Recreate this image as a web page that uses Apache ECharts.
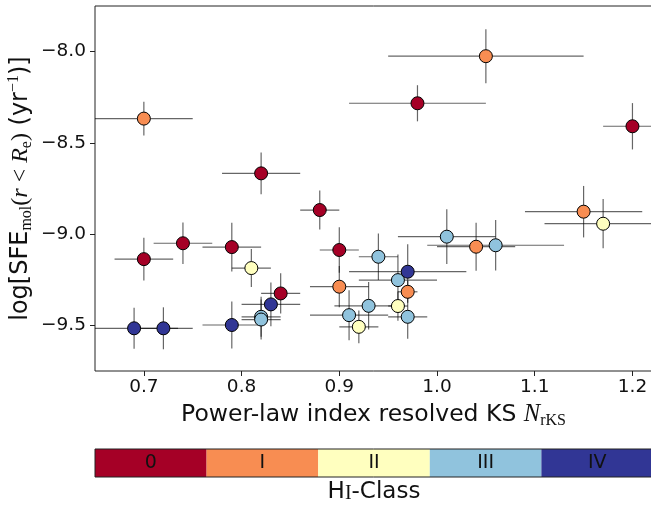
<!DOCTYPE html>
<html>
<head>
<meta charset="utf-8">
<script src="https://cdn.jsdelivr.net/npm/echarts@6/dist/echarts.min.js"></script>
<style>
  html, body { margin: 0; padding: 0; background: #fff; }
  #chart { width: 651px; height: 506px; }
</style>
</head>
<body>
<div id="chart"></div>
<script>
// power-law index, SFE and their errors, HI class per galaxy
const nKS = [0.70, 0.74, 0.79, 0.88, 0.90, 0.84, 0.82, 0.98, 1.20,
  0.70, 1.05, 0.90, 0.97, 1.04, 1.15,
  0.81, 0.96, 0.92, 1.17,
  0.82, 0.82, 0.91, 0.93, 0.94, 0.96, 0.97, 1.01, 1.06,
  0.69, 0.72, 0.79, 0.83, 0.97];
const logSFE = [-9.137, -9.050, -9.071, -8.868, -9.087, -9.325, -8.667, -8.283, -8.409,
  -8.367, -8.025, -9.288, -9.316, -9.069, -8.877,
  -9.186, -9.394, -9.508, -8.943,
  -9.453, -9.468, -9.444, -9.393, -9.124, -9.252, -9.453, -9.014, -9.061,
  -9.516, -9.516, -9.498, -9.385, -9.206];
const nKSErr = [0.03, 0.03, 0.03, 0.02, 0.02, 0.02, 0.04, 0.07, 0.03,
  0.05, 0.10, 0.03, 0.01, 0.04, 0.06,
  0.02, 0.01, 0.02, 0.06,
  0.02, 0.02, 0.04, 0.035, 0.02, 0.04, 0.02, 0.05, 0.07,
  0.045, 0.03, 0.03, 0.03, 0.06];
const sfeErr = [0.117, 0.114, 0.134, 0.107, 0.124, 0.11, 0.114, 0.099, 0.127,
  0.093, 0.148, 0.113, 0.06, 0.132, 0.141,
  0.104, 0.08, 0.09, 0.135,
  0.11, 0.11, 0.137, 0.13, 0.128, 0.14, 0.12, 0.15, 0.138,
  0.112, 0.115, 0.129, 0.12, 0.15];
const hiClass = [0, 0, 0, 0, 0, 0, 0, 0, 0,
  1, 1, 1, 1, 1, 1,
  2, 2, 2, 2,
  3, 3, 3, 3, 3, 3, 3, 3, 3,
  4, 4, 4, 4, 4];

const classLabels = ["0", "I", "II", "III", "IV"];
const xTicks = [0.7, 0.8, 0.9, 1.0, 1.1, 1.2];
const yTicks = [-9.5, -9.0, -8.5, -8.0];

const classColors = ["#a50026", "#f88d52", "#ffffbf", "#90c3dd", "#313695"];
const serif = "Liberation Serif";

const errRows = nKS.map((x, i) => [x, logSFE[i], nKSErr[i], sfeErr[i]]);

const scatterSeries = classLabels.map((name, c) => ({
  name: name,
  type: "scatter",
  symbolSize: 13,
  z: 5,
  itemStyle: { color: classColors[c], borderColor: "#000", borderWidth: 1, opacity: 1 },
  data: nKS.map((x, i) => [x, logSFE[i], hiClass[i]]).filter((d) => d[2] === c),
}));

const minus = (v) => (v < 0 ? "\u2212" : "") + Math.abs(v).toFixed(1);

const chart = echarts.init(document.getElementById("chart"));
chart.setOption({
  animation: false,
  textStyle: { fontFamily: "DejaVu Sans" },
  grid: [
    { left: 95, right: -1, top: 6, bottom: 135, outerBoundsMode: "none",
      show: true, borderColor: "#222", borderWidth: 1 },
    { left: 95, right: -2, top: 449, height: 28, outerBoundsMode: "none", show: true, z: 10,
      borderColor: "#222", borderWidth: 1, backgroundColor: "transparent" },
  ],
  xAxis: [
    {
      type: "value",
      min: 0.65,
      max: 1.22,
      splitLine: { show: false },
      axisLine: { show: false },
      axisTick: { show: true, length: 5, customValues: xTicks, lineStyle: { color: "#222" } },
      axisLabel: { customValues: xTicks, fontSize: 18.5, color: "#111", margin: 7,
        formatter: (v) => v.toFixed(1) },
      name: "{a|Power-law index resolved KS }{n|N}{s|rKS}",
      nameLocation: "middle",
      nameGap: 29,
      nameTextStyle: {
        rich: {
          a: { fontSize: 23.5, color: "#111", fontFamily: "DejaVu Sans" },
          n: { fontSize: 24.5, color: "#111", fontFamily: serif, fontStyle: "italic" },
          s: { fontSize: 16, color: "#111", fontFamily: serif, padding: [13, 0, 0, 0] },
        },
      },
    },
    {
      type: "category",
      gridIndex: 1,
      data: classLabels,
      axisLine: { show: false },
      axisTick: { show: false },
      axisLabel: { show: false },
      name: "{h|H}{i|I}{c|-Class}",
      nameLocation: "middle",
      nameGap: 4,
      nameTextStyle: {
        rich: {
          h: { fontSize: 23, color: "#111", fontFamily: "DejaVu Sans" },
          i: { fontSize: 20, color: "#111", fontFamily: serif, padding: [2, 0, 0, 0] },
          c: { fontSize: 23, color: "#111", fontFamily: "DejaVu Sans" },
        },
      },
    },
  ],
  yAxis: [
    {
      type: "value",
      min: -9.75,
      max: -7.75,
      splitLine: { show: false },
      axisLine: { show: false },
      axisTick: { show: true, length: 5, customValues: yTicks, lineStyle: { color: "#222" } },
      axisLabel: { customValues: yTicks, fontSize: 18.5, color: "#111", margin: 9, formatter: minus },
      name: "{t|log[SFE}{sb|mol}{m|(}{mi|r}{m| < }{mi|R}{sb|e}{m|)}{t| (yr}{sp|\u22121}{t|)]}",
      nameLocation: "middle",
      nameGap: 60,
      nameMoveOverlap: false,
      nameTextStyle: {
        rich: {
          t: { fontSize: 24, color: "#111", fontFamily: "DejaVu Sans" },
          m: { fontSize: 24, color: "#111", fontFamily: serif },
          mi: { fontSize: 24, color: "#111", fontFamily: serif, fontStyle: "italic" },
          sb: { fontSize: 16, color: "#111", fontFamily: serif, padding: [13, 0, 0, 0] },
          sp: { fontSize: 16, color: "#111", fontFamily: serif, padding: [0, 0, 13, 0] },
        },
      },
    },
    { type: "value", gridIndex: 1, min: 0, max: 1, show: false },
  ],
  series: [
    {
      type: "custom",
      clip: true,
      z: 2,
      encode: { x: 0, y: 1 },
      data: errRows,
      renderItem: function (params, api) {
        const x = api.value(0), y = api.value(1), xe = api.value(2), ye = api.value(3);
        const l = api.coord([x - xe, y]), r = api.coord([x + xe, y]);
        const t = api.coord([x, y + ye]), b = api.coord([x, y - ye]);
        const style = { stroke: "rgba(0,0,0,0.6)", lineWidth: 1.2 };
        return {
          type: "group",
          children: [
            { type: "line", shape: { x1: l[0], y1: l[1], x2: r[0], y2: r[1] }, style: style },
            { type: "line", shape: { x1: t[0], y1: t[1], x2: b[0], y2: b[1] }, style: style },
          ],
        };
      },
    },
    ...scatterSeries,
    {
      type: "bar",
      xAxisIndex: 1,
      yAxisIndex: 1,
      barCategoryGap: "0%",
      data: classLabels.map((name, c) => ({ value: 1, itemStyle: { color: classColors[c] } })),
      label: { show: true, position: "inside", formatter: "{b}", color: "#111", fontSize: 19 },
    },
  ],
});
</script>
</body>
</html>
